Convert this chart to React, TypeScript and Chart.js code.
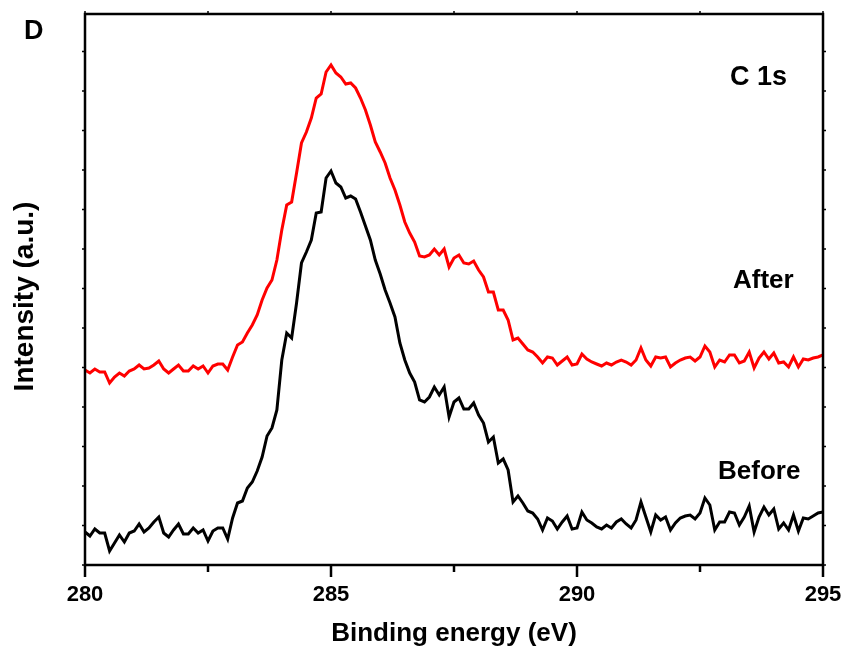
import React, { useEffect, useRef } from "react";
import { Chart, registerables } from "chart.js";

Chart.register(...registerables);

// C 1s spectra sampled every 0.1 eV from 280 to 295 eV (arbitrary units)
const energyStart = 280;
const energyStep = 0.1;

const beforeCounts = [
  33, 29, 36, 32, 32, 14, 22, 30, 23, 32, 34, 41, 33, 37, 43, 48, 32, 28, 35, 41,
  31, 31, 37, 32, 35, 24, 34, 37, 37, 26, 47, 62, 64, 77, 83, 94, 108, 129, 137, 155,
  205, 232, 227, 262, 302, 313, 325, 352, 353, 387, 394, 382, 378, 367, 369, 366, 353, 339, 325, 305,
  291, 275, 262, 248, 222, 205, 192, 183, 165, 163, 168, 178, 170, 178, 148, 163, 167, 156, 156, 162,
  150, 142, 123, 128, 102, 106, 95, 63, 69, 62, 54, 52, 46, 35, 47, 44, 36, 43, 49, 36,
  37, 53, 45, 42, 38, 36, 40, 37, 43, 46, 41, 37, 45, 63, 48, 33, 50, 45, 48, 35,
  42, 47, 49, 50, 46, 52, 67, 60, 35, 43, 43, 53, 52, 40, 48, 59, 33, 48, 58, 50,
  56, 36, 42, 35, 50, 34, 47, 46, 49, 52, 53,
];

const afterCounts = [
  195, 192, 196, 193, 193, 182, 188, 192, 189, 194, 196, 200, 196, 197, 200, 204, 196, 192, 196, 200,
  194, 194, 199, 196, 199, 192, 199, 201, 201, 195, 208, 220, 223, 232, 240, 250, 265, 277, 285, 305,
  335, 360, 363, 392, 422, 433, 447, 467, 471, 493, 500, 492, 488, 481, 482, 477, 467, 455, 440, 423,
  413, 402, 387, 375, 360, 343, 332, 323, 309, 308, 310, 316, 310, 316, 298, 307, 310, 302, 301, 304,
  295, 288, 273, 273, 255, 255, 245, 225, 227, 221, 215, 213, 208, 202, 208, 207, 200, 204, 208, 200,
  201, 211, 206, 203, 201, 199, 202, 200, 203, 205, 203, 200, 205, 217, 205, 199, 208, 207, 208, 198,
  202, 205, 207, 208, 204, 208, 219, 213, 198, 205, 203, 210, 210, 202, 204, 213, 197, 207, 213, 206,
  212, 202, 203, 198, 208, 198, 206, 205, 207, 208, 210,
];

const xMin = 280;
const xMax = 295;
const xTickValues = [280, 282.5, 285, 287.5, 290, 292.5, 295];
const xTickLabels = ["280", "285", "290", "295"];
const yMin = 0;
const yMax = 551;
const yTickStep = 39.5;

const panelLetter = "D";
const peakLabel = "C 1s";
const afterLabel = "After";
const beforeLabel = "Before";
const xTitle = "Binding energy (eV)";
const yTitle = "Intensity (a.u.)";

const FONT = '"Liberation Sans", Arial, Helvetica, sans-serif';

const toPoints = (values: number[]) =>
  values.map((v, i) => ({ x: +(energyStart + i * energyStep).toFixed(1), y: v }));

const framePlugin = {
  id: "frameAndText",
  afterDraw(chart: any) {
    const { ctx, chartArea } = chart;
    const xs = chart.scales.x;
    const ys = chart.scales.y;
    const { left, right, top, bottom } = chartArea;
    ctx.save();

    // frame
    ctx.strokeStyle = "#000";
    ctx.lineWidth = 2.5;
    ctx.strokeRect(left, top, right - left, bottom - top);

    // x ticks: bottom (outward) and top (short)
    xTickValues.forEach((v) => {
      const px = xs.getPixelForValue(v);
      const major = v % 5 === 0;
      ctx.lineWidth = 2.5;
      ctx.beginPath();
      ctx.moveTo(px, bottom);
      ctx.lineTo(px, bottom + (major ? 12 : 7));
      ctx.stroke();
      ctx.lineWidth = 1.5;
      ctx.beginPath();
      ctx.moveTo(px, top);
      ctx.lineTo(px, top - 3);
      ctx.stroke();
    });

    // y ticks on both sides
    ctx.lineWidth = 1.5;
    for (let v = yMin; v <= yMax; v += yTickStep) {
      const py = ys.getPixelForValue(v);
      ctx.beginPath();
      ctx.moveTo(left, py);
      ctx.lineTo(left - 3, py);
      ctx.moveTo(right, py);
      ctx.lineTo(right + 3, py);
      ctx.stroke();
    }

    ctx.fillStyle = "#000";
    ctx.textBaseline = "middle";

    // x tick labels
    ctx.font = `bold 22px ${FONT}`;
    ctx.textAlign = "center";
    xTickLabels.forEach((t) => {
      ctx.fillText(t, xs.getPixelForValue(Number(t)), bottom + 30);
    });

    // axis titles
    ctx.font = `bold 26px ${FONT}`;
    ctx.fillText(xTitle, (left + right) / 2, bottom + 69);
    ctx.save();
    ctx.font = `bold 28px ${FONT}`;
    ctx.translate(25, (top + bottom) / 2 + 7);
    ctx.rotate(-Math.PI / 2);
    ctx.fillText(yTitle, 0, 0);
    ctx.restore();

    // annotations
    ctx.textAlign = "left";
    ctx.font = `bold 27px ${FONT}`;
    ctx.fillText(peakLabel, 730, 78);
    ctx.font = `bold 26px ${FONT}`;
    ctx.fillText(afterLabel, 733, 281);
    ctx.fillText(beforeLabel, 718, 472);
    ctx.font = `bold 27px ${FONT}`;
    ctx.fillText(panelLetter, 24, 32);

    ctx.restore();
  },
};

export default function App() {
  const canvasRef = useRef<HTMLCanvasElement | null>(null);

  useEffect(() => {
    const canvas = canvasRef.current;
    if (!canvas) return;
    const chart = new Chart(canvas, {
      type: "line",
      data: {
        datasets: [
          {
            label: afterLabel,
            data: toPoints(afterCounts),
            borderColor: "#ff0000",
            borderWidth: 3,
            pointRadius: 0,
            tension: 0,
            fill: false,
          },
          {
            label: beforeLabel,
            data: toPoints(beforeCounts),
            borderColor: "#000000",
            borderWidth: 3,
            pointRadius: 0,
            tension: 0,
            fill: false,
          },
        ],
      },
      options: {
        animation: false,
        responsive: false,
        maintainAspectRatio: false,
        devicePixelRatio: 1,
        layout: { padding: { left: 85, top: 14, right: 23, bottom: 90 } },
        plugins: {
          legend: { display: false },
          tooltip: { enabled: false },
        },
        scales: {
          x: { type: "linear", min: xMin, max: xMax, display: false },
          y: { type: "linear", min: yMin, max: yMax, display: false },
        },
      },
      plugins: [framePlugin],
    });
    return () => chart.destroy();
  }, []);

  return (
    <div style={{ position: "fixed", left: 0, top: 0, width: 846, height: 655, background: "#fff" }}>
      <canvas ref={canvasRef} width={846} height={655} />
    </div>
  );
}
